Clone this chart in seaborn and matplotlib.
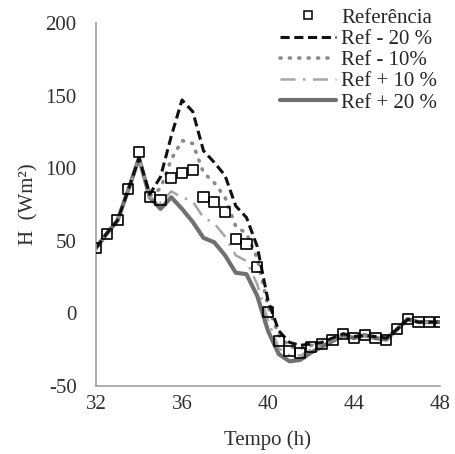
import numpy as np
import pandas as pd
import matplotlib
matplotlib.use("Agg")
import matplotlib.pyplot as plt
import seaborn as sns
from matplotlib.lines import Line2D

tempo = [32, 32.5, 33, 33.5, 34, 34.5, 35, 35.5, 36, 36.5, 37, 37.5, 38, 38.5, 39, 39.5,
         40, 40.5, 41, 41.5, 42, 42.5, 43, 43.5, 44, 44.5, 45, 45.5, 46, 46.5, 47, 47.5, 48]

referencia = [45, 55, 64, 86, 111, 80, 78, 93, 97, 99, 80, 77, 70, 51, 48, 32,
              1, -19, -26, -27, -23, -21, -18, -14, -17, -15, -17, -18, -11, -4, -6, -6, -6]

ref_m20 = [45, 55, 64, 85, 107, 82, 94, 122, 147, 139, 112, 104, 95, 74, 66, 46,
           9, -12, -20, -22, -21, -20, -17, -14, -16, -15, -16, -17, -11, -4, -6, -6, -6]

ref_m10 = [45, 55, 64, 85, 107, 81, 86, 106, 119, 117, 97, 90, 80, 60, 55, 38,
           5, -15, -23, -24, -22, -21, -18, -14, -16, -15, -16, -17, -11, -4, -6, -6, -6]

ref_p10 = [45, 55, 64, 85, 107, 80, 76, 84, 80, 77, 66, 62, 53, 40, 36, 20,
           -5, -24, -29, -29, -25, -22, -18, -15, -17, -15, -17, -18, -11, -4, -6, -6, -6]

ref_p20 = [45, 55, 64, 85, 107, 80, 72, 80, 72, 63, 52, 49, 40, 28, 27, 12,
           -12, -28, -33, -32, -27, -23, -19, -15, -17, -15, -17, -18, -11, -4, -6, -6, -6]

labels = ["Referência", "Ref - 20 %", "Ref - 10%", "Ref + 10 %", "Ref + 20 %"]
x_ticks = [32, 36, 40, 44, 48]
y_ticks = [-50, 0, 50, 100, 150, 200]

df = pd.DataFrame({"Tempo": tempo, "Ref": referencia, "m20": ref_m20,
                   "m10": ref_m10, "p10": ref_p10, "p20": ref_p20})

sns.set_style("white")
plt.rcParams["font.family"] = ["Liberation Serif", "DejaVu Serif"]

FS = 15
TXT = "#303030"

fig = plt.figure(figsize=(4.56, 4.54), dpi=100)
ax = fig.add_axes([96/456, 1-386/454, (440-96)/456, (386-23)/454])

styles = {
    "p20": dict(color="#707070", lw=3.0, ls="-"),
    "p10": dict(color="#a6a6a6", lw=1.8, ls=(0, (6, 3, 1, 3))),
    "m10": dict(color="#8a8a8a", lw=2.6, ls=(0, (0.3, 2.3))),
    "m20": dict(color="#111111", lw=2.2, ls=(0, (3, 1.5))),
}
for key in ["p20", "p10", "m10", "m20"]:
    st = styles[key]
    sns.lineplot(data=df, x="Tempo", y=key, ax=ax, color=st["color"],
                 linewidth=st["lw"], legend=False)
    line = ax.lines[-1]
    line.set_linestyle(st["ls"])
    if key == "m10":
        line.set_dash_capstyle("round")

sns.scatterplot(data=df, x="Tempo", y="Ref", ax=ax, marker="s", s=52,
                facecolor="none", edgecolor="black", linewidth=1.2, zorder=5,
                legend=False)

ax.set_xlim(32, 48)
ax.set_ylim(-50, 200)
ax.set_xticks(x_ticks)
ax.set_yticks(y_ticks)
ax.set_xticklabels([str(v) for v in x_ticks], fontsize=FS, color=TXT)
ax.set_yticklabels([str(v) for v in y_ticks], fontsize=FS, color=TXT)
ax.set_xlabel("Tempo (h)", fontsize=FS, color=TXT, labelpad=12)
ax.set_ylabel("H  (Wm²)", fontsize=FS, color=TXT, labelpad=5)

for side in ["top", "right"]:
    ax.spines[side].set_visible(False)
for side in ["left", "bottom"]:
    ax.spines[side].set_color("#a0a0a0")
    ax.spines[side].set_linewidth(1.2)
ax.tick_params(axis="both", direction="out", length=6, width=1.1, color="#a0a0a0")
ax.tick_params(axis="y", pad=8)
ax.tick_params(axis="x", pad=0.5)

handles = [
    Line2D([], [], ls="none", marker="s", markersize=6, markerfacecolor="none",
           markeredgecolor="black", markeredgewidth=1.1),
    Line2D([], [], color=styles["m20"]["color"], lw=2.2, ls=(0, (3, 1.5))),
    Line2D([], [], color=styles["m10"]["color"], lw=2.6, ls=(0, (0.3, 2.3)),
           dash_capstyle="round"),
    Line2D([], [], color=styles["p10"]["color"], lw=1.8, ls=(0, (6, 3, 1, 3))),
    Line2D([], [], color=styles["p20"]["color"], lw=3.0, ls="-"),
]
fig.legend(handles, labels, loc="upper left", bbox_to_anchor=(280/456, 1-8/454),
           frameon=False, fontsize=FS, handlelength=2.7, handletextpad=0.25,
           labelspacing=0.08, borderpad=0, borderaxespad=0)

fig.savefig("out.png", dpi=100)
